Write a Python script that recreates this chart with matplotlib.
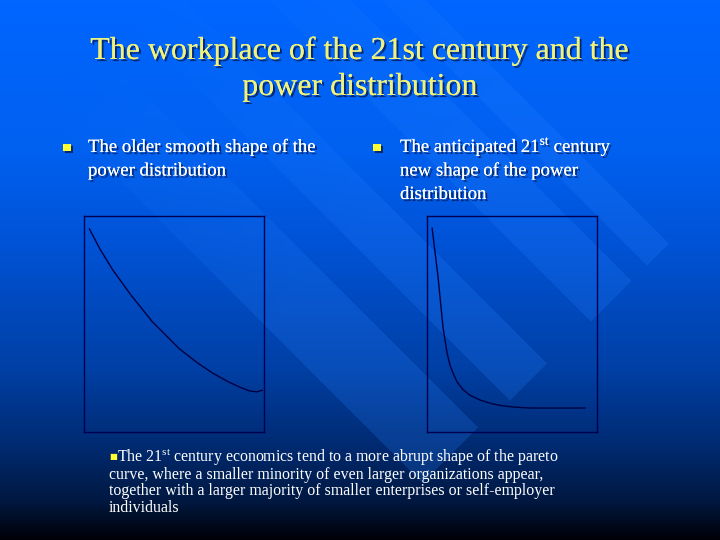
"""
Diapositiva: el lugar de trabajo del siglo XXI y la distribución del poder.
Fondo azul degradado con bandas diagonales, dos curvas de Pareto en recuadros.
"""

import numpy as np
import matplotlib

matplotlib.use("Agg")
import matplotlib.pyplot as plt
from matplotlib import patheffects
from matplotlib.colors import LinearSegmentedColormap

SERIF = "Liberation Serif"
plt.rcParams["mathtext.fontset"] = "custom"
plt.rcParams["mathtext.rm"] = SERIF

# --- textos ---
TITLE_LINES = ["The workplace of the 21st century and the", "power distribution"]
LEFT_BULLET = ["The older smooth shape of the", "power distribution"]
RIGHT_BULLET = [r"The anticipated 21$^{\mathrm{st}}$ century", "new shape of the power", "distribution"]
NOTE_LINES = [
    r"The 21$^{\mathrm{st}}$ century economics tend to a more abrupt shape of the pareto",
    "curve, where a smaller minority of even larger organizations appear,",
    "together with a larger majority of smaller enterprises or self-employer",
    "individuals",
]

# --- curvas (unidades 0-100 dentro de cada recuadro) ---
old_x = [3, 9, 16, 26, 38, 53, 63, 72, 80, 87, 92, 96, 99]
old_y = [94, 84.5, 75, 63.5, 51, 38.5, 32, 27, 23.3, 20.6, 19, 18.6, 19.3]
new_x = [3, 6.5, 9.4, 11.8, 13.5, 15.3, 17.6, 21.2, 25.5, 31.2, 38, 44.7, 52, 60.6, 93]
new_y = [94.4, 71.8, 48.6, 36.6, 31, 27.3, 23.3, 19.6, 16.9, 14.8, 13.1, 12.1, 11.5, 11.1, 11.1]

W, H = 720, 540
YELLOW = "#f2f27a"
NAVY = "#000050"
shadow = [patheffects.withSimplePatchShadow(offset=(1.5, -1.5), shadow_rgbFace="#001040", alpha=0.7),
          patheffects.Normal()]

fig = plt.figure(figsize=(W / 100, H / 100), dpi=100)
bg = fig.add_axes([0, 0, 1, 1])
bg.set_xlim(0, W)
bg.set_ylim(H, 0)
bg.axis("off")

# fondo: degradado vertical + bandas diagonales más claras (c = x - y, corte en x + y = s)
grad_cmap = LinearSegmentedColormap.from_list("slide", [
    (0.0, "#0066ff"), (0.28, "#0060f0"), (0.46, "#0052d4"), (0.68, "#0040a6"),
    (0.83, "#002a70"), (0.93, "#001840"), (1.0, "#000008")])
yy, xx = np.mgrid[0:H, 0:W] + 0.5
base = grad_cmap(yy / H)[..., :3]
band = np.zeros((H, W))
for c0, c1, s in [(-60, 50, 905), (110, 183, 910), (270, 350, 912), (382, 425, 912)]:
    band += ((xx - yy >= c0) & (xx - yy <= c1) & (xx + yy <= s))
fade = np.clip((xx + yy - 150) / 450, 0, 1)
a = np.clip(band, 0, 1)[..., None] * 0.22 * fade[..., None]
light = np.array([0.15, 0.5, 1.0])
bg.imshow(base * (1 - a) + light * a, extent=[0, W, H, 0], aspect="auto", zorder=0)

# título
for i, line in enumerate(TITLE_LINES):
    bg.text(360, 59 + 36 * i, line, color=YELLOW, fontsize=23, family=SERIF,
            ha="center", va="baseline", zorder=5, path_effects=shadow)

# viñetas
for bx, tx, lines in [(67, 88, LEFT_BULLET), (377, 400, RIGHT_BULLET)]:
    bg.text(bx, 147, "■", color="#ffff33", fontsize=7, family="DejaVu Sans",
            ha="center", va="center", zorder=5, path_effects=shadow)
    for i, line in enumerate(lines):
        bg.text(tx, 152 + 23.5 * i, line, color="white", fontsize=13.5, family=SERIF,
                ha="left", va="baseline", zorder=5, path_effects=shadow)

# nota inferior
bg.text(113, 457, "■", color="#ffff33", fontsize=6, family="DejaVu Sans",
        ha="center", va="center", zorder=5)
for i, line in enumerate(NOTE_LINES):
    bg.text(117 if i == 0 else 109, 462 + 16.7 * i, line, color="white",
            fontsize=11.4, family=SERIF, ha="left", va="baseline", zorder=5)

# recuadros con las curvas
for (x0, x1), xs, ys in [((84, 264), old_x, old_y), ((427, 597), new_x, new_y)]:
    y0, y1 = 216, 432
    ax = fig.add_axes([x0 / W, 1 - y1 / H, (x1 - x0) / W, (y1 - y0) / H])
    ax.patch.set_alpha(0)
    ax.set_xlim(0, 100)
    ax.set_ylim(0, 100)
    ax.set_xticks([])
    ax.set_yticks([])
    for sp in ax.spines.values():
        sp.set_color(NAVY)
        sp.set_linewidth(1)
    ax.plot(xs, ys, color="#000040", lw=1)

fig.savefig("out.png", dpi=100)
